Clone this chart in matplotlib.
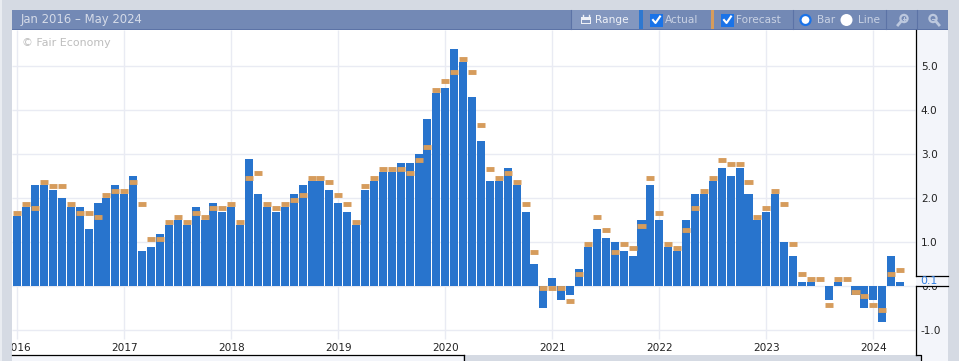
import numpy as np
import matplotlib as mpl
mpl.use('Agg')
import matplotlib.pyplot as plt
from matplotlib.patches import Rectangle, Circle

mpl.rc('font', family='DejaVu Sans', size=7.6)

W, H = 959, 361

actual = [1.6, 1.8, 2.3, 2.3, 2.2, 2.0, 1.8, 1.8, 1.3, 1.9, 2.0, 2.3,
          2.1, 2.5, 0.8, 0.9, 1.2, 1.4, 1.5, 1.4, 1.8, 1.5, 1.9, 1.7,
          1.8, 1.4, 2.9, 2.1, 1.8, 1.7, 1.8, 2.1, 2.3, 2.4, 2.4, 2.2,
          1.9, 1.7, 1.4, 2.2, 2.4, 2.6, 2.6, 2.8, 2.8, 3.0, 3.8, 4.4,
          4.5, 5.4, 5.1, 4.3, 3.3, 2.4, 2.4, 2.7, 2.3, 1.7, 0.5, -0.5,
          0.2, -0.3, -0.2, 0.4, 0.9, 1.3, 1.1, 1.0, 0.8, 0.7, 1.5, 2.3,
          1.5, 0.9, 0.8, 1.5, 2.1, 2.1, 2.4, 2.7, 2.5, 2.7, 2.1, 1.5,
          1.7, 2.1, 1.0, 0.7, 0.1, 0.1, 0.02, -0.3, 0.1, 0.02, -0.2, -0.5,
          -0.3, -0.8, 0.7, 0.1]
forecast = [1.7, 1.9, 1.8, 2.4, 2.3, 2.3, 1.9, 1.7, 1.7, 1.6, 2.1, 2.2,
            2.2, 2.4, 1.9, 1.1, 1.1, 1.5, 1.6, 1.5, 1.7, 1.6, 1.8, 1.8,
            1.9, 1.5, 2.5, 2.6, 1.9, 1.8, 1.9, 2.0, 2.1, 2.5, 2.5, 2.4,
            2.1, 1.9, 1.5, 2.3, 2.5, 2.7, 2.7, 2.7, 2.6, 2.9, 3.2, 4.5,
            4.7, 4.9, 5.2, 4.9, 3.7, 2.7, 2.5, 2.6, 2.4, 1.9, 0.8, 0.0,
            0.0, 0.0, -0.3, 0.3, 1.0, 1.6, 1.3, 0.8, 1.0, 0.9, 1.4, 2.5,
            1.7, 1.0, 0.9, 1.3, 1.8, 2.2, 2.5, 2.9, 2.8, 2.8, 2.4, 1.6,
            1.8, 2.2, 1.9, 1.0, 0.3, 0.2, 0.2, -0.4, 0.2, 0.2, -0.1, -0.2,
            -0.4, -0.5, 0.3, 0.4]
year_labels = ['2016', '2017', '2018', '2019', '2020', '2021', '2022', '2023', '2024']
y_ticks = [-1.0, 0.0, 1.0, 2.0, 3.0, 4.0, 5.0]

BLUE = '#2874cd'
ORANGE = '#d69c5c'
BAND = '#d5dae3'
PANEL = '#f3f5fa'
HEADER = '#7389b5'
GRID = '#e9ebf3'
ICON = '#bcc8de'

fig = plt.figure(figsize=(W / 100, H / 100), dpi=100, facecolor=BAND)


def px_axes(zorder):
    a = fig.add_axes([0, 0, 1, 1], zorder=zorder)
    a.set_xlim(0, W)
    a.set_ylim(H, 0)
    a.axis('off')
    return a


def box(a, x0, y0, x1, y1, color, **kw):
    a.add_patch(Rectangle((x0, y0), x1 - x0, y1 - y0, fc=color, ec='none', **kw))


# panels behind the plot
back = px_axes(0)
box(back, 12, 30, 915.5, 355, 'white')
box(back, 915.5, 30, 948, 355, PANEL)
box(back, 12, 355, 463, 361, PANEL)

# plot area
L, R, T, B = 12, 915.5, 30, 355
ax = fig.add_axes([L / W, 1 - B / H, (R - L) / W, (B - T) / H], zorder=1)
ax.patch.set_visible(False)
for s in ax.spines.values():
    s.set_visible(False)

months = np.arange(len(actual))
ax.set_xlim((L - 17.3) / 8.917, (R - 17.3) / 8.917)
ax.set_ylim((286.4 - B) / 44, (286.4 - T) / 44)

year_pos = months[::12]
ax.hlines(y_ticks, ax.get_xlim()[0], ax.get_xlim()[1], color=GRID, lw=1, zorder=1)
ax.vlines(year_pos, -1.19, ax.get_ylim()[1], color=GRID, lw=1, zorder=1)
ax.bar(months, actual, width=0.9, color=BLUE, zorder=2)
# the marks sit about a pixel under their value
ax.hlines(np.array(forecast) - 0.025, months - 0.45, months + 0.45, color=ORANGE,
          lw=3.5, zorder=3, capstyle='butt')

ax.set_xticks(year_pos)
ax.set_xticklabels(year_labels, color='#222222')
ax.tick_params(axis='x', length=0, pad=-8.6)
ax.yaxis.tick_right()
ax.set_yticks(y_ticks)
ax.set_yticklabels(['%.1f' % v for v in y_ticks], color='#222222')
ax.tick_params(axis='y', length=0, pad=3.8)

# frame, header and buttons on top
top = px_axes(2)
box(top, 0, 0, 12, H, BAND)
box(top, 0, 0, 1.5, H, '#e9ecf1')
box(top, 12, 10, 948, 30, HEADER)
box(top, 12, 29, 948, 30, '#5c73a6')
box(top, 571, 10, 639, 29, '#8397bf')
box(top, 639, 10, 643, 29, '#2f78d0')
box(top, 711, 10, 714, 29, ORANGE)
for xs in [571, 793, 886, 917]:
    top.plot([xs, xs], [10, 29], color='#5c73a6', lw=0.8)

top.text(21, 20, 'Jan 2016 – May 2024', color='#d5dbe8', va='center', size=8.4)
top.text(22, 43.5, '© Fair Economy', color='#bdbdbd', va='center', size=7.9)

# calendar icon
box(top, 581, 17, 591, 24, '#eef1f7')
box(top, 582, 19.5, 590, 22.5, '#8397bf')
top.plot([583, 583], [15, 17], color='#eef1f7', lw=1)
top.plot([589, 589], [15, 17], color='#eef1f7', lw=1)
top.text(595, 20, 'Range', color='#eef1f7', va='center', size=7.6)

for cx, name in [(650, 'Actual'), (721, 'Forecast')]:
    box(top, cx, 13.5, cx + 13, 26.5, '#1a73e8')
    top.plot([cx + 3, cx + 5.5, cx + 10], [20, 23, 16.5], color='white', lw=1.5)
    top.text(cx + 15, 20, name, color='#c9d2e4', va='center', size=7.6)

top.add_patch(Circle((805.5, 20), 5, fc='white', ec='#1a73e8', lw=1.6))
top.text(817, 20, 'Bar', color='#c9d2e4', va='center', size=7.6)
top.add_patch(Circle((846.5, 20), 6, fc='white', ec='none'))
top.text(858, 20, 'Line', color='#c9d2e4', va='center', size=7.6)

# zoom icons
top.add_patch(Circle((904, 18.5), 3.6, fc='none', ec=ICON, lw=1.6))
top.plot([904, 904], [17, 20], color=ICON, lw=0.8)
top.plot([902.5, 905.5], [18.5, 18.5], color=ICON, lw=0.8)
top.plot([901, 898], [21.5, 25], color=ICON, lw=2)
top.add_patch(Circle((933, 18.5), 3.6, fc='none', ec=ICON, lw=1.6))
top.plot([931.5, 934.5], [18.5, 18.5], color=ICON, lw=0.8)
top.plot([936, 939], [21.5, 25], color=ICON, lw=2)

# right side and bottom of the plot
box(top, 463, 355, 916, 361, BAND)
box(top, 948, 0, 959, H, BAND)
box(top, 915.5, 355, 948, 361, PANEL)
box(top, 915.5, 355.5, 921, 361, BAND)
top.plot([915.5, 915.5], [30, 275.5], color='black', lw=0.9)
top.plot([915.5, 915.5], [286, 355], color='black', lw=0.9)
top.plot([12, 463.5], [355.3, 355.3], color='black', lw=0.9)
top.plot([463.5, 463.5], [355.3, 361], color='black', lw=0.9)
top.plot([915.5, 921, 921], [355.3, 355.3, 361], color='black', lw=0.9)

# last value flag
box(top, 915.5, 275.5, 948, 286, PANEL)
top.plot([915.5, 948], [275.5, 275.5], color='black', lw=0.9)
top.plot([915.5, 948], [286, 286], color='black', lw=0.9)
top.text(920.5, 281, '0.1', color='#2f7de0', va='center', size=7.8)

fig.savefig('out.png', dpi=100, facecolor=BAND)
